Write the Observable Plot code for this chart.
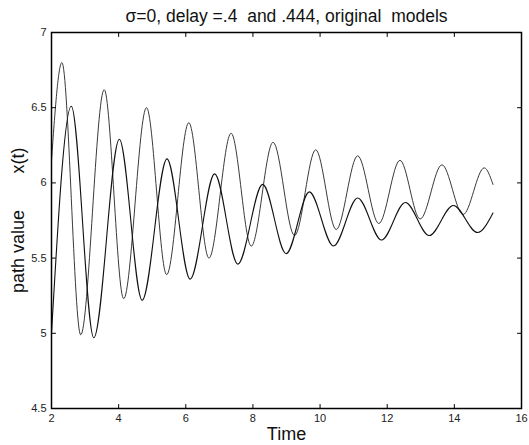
<!DOCTYPE html>
<html>
<head>
<meta charset="utf-8">
<script src="https://cdn.jsdelivr.net/npm/d3@7"></script>
<script src="https://cdn.jsdelivr.net/npm/@observablehq/plot@0.6"></script>
<style>
  html, body { margin: 0; padding: 0; background: #fff; }
  svg text { white-space: pre; }
</style>
</head>
<body>
<div id="chart"></div>
<script>
// ---- data ----
const titleText = "σ=0, delay =.4  and .444, original  models";
const xLabel = "Time";
const yLabel1 = "path value";
const yLabel2 = "x(t)";

const xTicks = [2, 4, 6, 8, 10, 12, 14, 16];
const yTicks = [4.5, 5, 5.5, 6, 6.5, 7];

// series A (delay .4, faster oscillation): times of extrema and values
const tA = [2.00, 2.31, 2.87, 3.57, 4.15, 4.83, 5.43, 6.09, 6.69, 7.35, 7.95, 8.60, 9.24, 9.87, 10.48, 11.12, 11.75, 12.38, 12.98, 13.63, 14.26, 14.89, 15.15];
const vA = [6.15, 6.80, 4.99, 6.62, 5.23, 6.50, 5.39, 6.40, 5.50, 6.33, 5.58, 6.27, 5.65, 6.22, 5.69, 6.18, 5.73, 6.15, 5.76, 6.12, 5.79, 6.10, 5.99];

// series B (delay .444, slower oscillation)
const tB = [2.00, 2.59, 3.26, 4.02, 4.70, 5.44, 6.13, 6.86, 7.55, 8.29, 8.99, 9.68, 10.40, 11.12, 11.83, 12.54, 13.25, 13.97, 14.69, 15.15];
const vB = [5.00, 6.51, 4.97, 6.29, 5.22, 6.16, 5.36, 6.06, 5.46, 5.99, 5.53, 5.94, 5.58, 5.90, 5.62, 5.87, 5.65, 5.85, 5.67, 5.80];

const seriesA = tA.map((t, i) => ({t, v: vA[i]}));
const seriesB = tB.map((t, i) => ({t, v: vB[i]}));

const tickShape = { draw(context, l) { context.moveTo(0, 0); context.lineTo(0, -l); } };
const tickColor = "#000";

const plot = Plot.plot({
  width: 529,
  height: 445,
  marginTop: 32,
  marginBottom: 37,
  marginLeft: 51,
  marginRight: 8,
  style: { fontFamily: "'Liberation Sans', Arial, Helvetica, sans-serif", fontSize: "11px", color: "#222", background: "#fff" },
  x: { domain: [2, 16], ticks: xTicks, tickSize: 0, tickPadding: 6, label: null, tickFormat: d3.format("~g") },
  y: { domain: [4.5, 7], ticks: yTicks, tickSize: 0, tickPadding: 5, label: null, tickFormat: d3.format("~g") },
  marks: [
    Plot.line(seriesA, { x: "t", y: "v", curve: "monotone-x", stroke: "#3a3a3a", strokeWidth: 1 }),
    Plot.line(seriesB, { x: "t", y: "v", curve: "monotone-x", stroke: "#111", strokeWidth: 1.1 }),
    Plot.frame({ stroke: "#000", strokeWidth: 1.5 }),
    // inward ticks on all four sides
    Plot.vector(xTicks.slice(1, -1), { x: d => d, y: 4.5, length: 4, rotate: 0, anchor: "start", shape: tickShape, stroke: tickColor, strokeWidth: 1 }),
    Plot.vector(xTicks.slice(1, -1), { x: d => d, y: 7, length: 4, rotate: 180, anchor: "start", shape: tickShape, stroke: tickColor, strokeWidth: 1 }),
    Plot.vector(yTicks.slice(1, -1), { x: 2, y: d => d, length: 4, rotate: 90, anchor: "start", shape: tickShape, stroke: tickColor, strokeWidth: 1 }),
    Plot.vector(yTicks.slice(1, -1), { x: 16, y: d => d, length: 4, rotate: 270, anchor: "start", shape: tickShape, stroke: tickColor, strokeWidth: 1 }),
    Plot.text([titleText], { frameAnchor: "top", lineAnchor: "middle", textAnchor: "middle", dy: -16, fontSize: 17.5, fill: "#111" }),
    Plot.text([xLabel], { frameAnchor: "bottom", lineAnchor: "middle", textAnchor: "middle", dy: 26, fontSize: 18, fill: "#111" }),
    Plot.text([yLabel1], { frameAnchor: "left", lineAnchor: "middle", textAnchor: "middle", dx: -33, dy: 31, rotate: -90, fontSize: 18, fill: "#111" }),
    Plot.text([yLabel2], { frameAnchor: "left", lineAnchor: "middle", textAnchor: "middle", dx: -33, dy: -60, rotate: -90, fontSize: 18, fill: "#111" })
  ]
});
document.getElementById("chart").appendChild(plot);
</script>
</body>
</html>
